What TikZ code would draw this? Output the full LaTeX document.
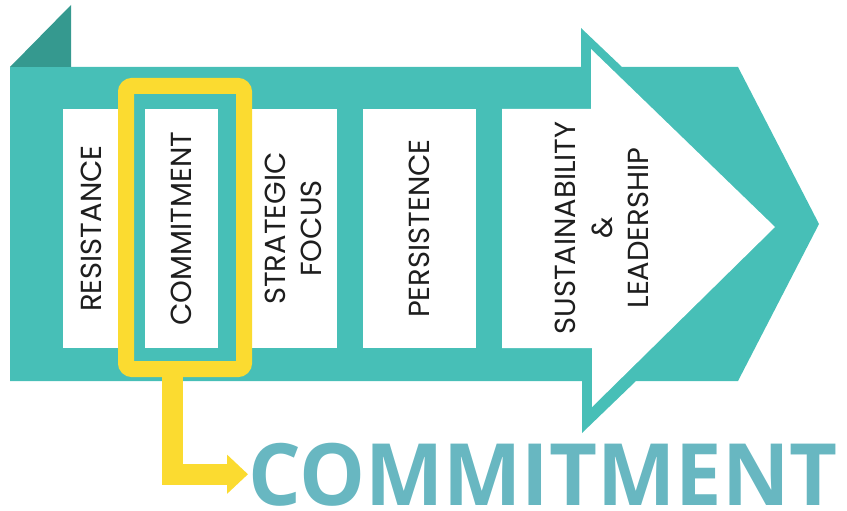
\documentclass[tikz,border=0pt]{standalone}
\usepackage{fontspec}
\setmainfont{Poppins}
\newfontfamily\titlefont{Open Sans}
\usetikzlibrary{arrows.meta}
\definecolor{band}{HTML}{47BFB7}
\definecolor{bandDark}{HTML}{35998F}
\definecolor{hl}{HTML}{FBDB30}
\definecolor{titleblue}{HTML}{68B7C1}
\definecolor{ink}{HTML}{1E1E1E}
\begin{document}
\begin{tikzpicture}[x=1pt,y=-1pt,
  stagebox/.style={fill=white, rotate=90, inner sep=0pt, align=center,
    font=\fontsize{29}{36}\selectfont, text=ink},
  stagetext/.style={rotate=90, inner sep=0pt, align=center,
    font=\fontsize{29}{36.5}\selectfont, text=ink},
  highlight/.style={draw=hl, line width=16pt, rounded corners=6pt, inner sep=0pt},
  connector/.style={hl, line width=21pt, -{Triangle[length=21pt,width=38pt]}},
  bigtitle/.style={anchor=base west, inner sep=0pt, text=titleblue,
    font=\titlefont\bfseries\fontsize{86}{86}\selectfont}]
\useasboundingbox (0,0) rectangle (847,511);
% band with arrow head
\fill[band] (10,67) -- (581,67) -- (581,28) -- (622,67) -- (738,67) -- (819,224)
  -- (738,381) -- (636,381) -- (582,433) -- (582,381) -- (10,381) -- cycle;
\fill[bandDark] (10,67) -- (71,5) -- (71,67) -- cycle;
% stage boxes
\node[stagebox, minimum width=239pt, minimum height=58pt] (s1) at (91.5,228.5) {RESISTANCE};
\node[stagebox, minimum width=239pt, minimum height=73pt] (s2) at (181.5,228.5) {COMMITMENT};
\node[stagebox, minimum width=239pt, minimum height=87pt] (s3) at (293.5,228.5) {STRATEGIC\\FOCUS};
\node[stagebox, minimum width=239pt, minimum height=113pt] (s4) at (419.5,228.5) {PERSISTENCE};
\fill[white] (502,109) -- (591,109) -- (591,49) -- (775,227) -- (592,407) -- (592,348)
  -- (502,348) -- cycle;
\node[stagetext] (s5) at (602,228) {SUSTAINABILITY\\\&\\LEADERSHIP};
% highlight and callout
\node[highlight, minimum width=118pt, minimum height=283pt] (ybox) at (185,227.5) {};
\node[bigtitle] (title) at (248,505) {\scalebox{0.965}[1]{COMMITMENT}};
\draw[connector] ([xshift=-12.5pt]ybox.south) |- (title.west);
\end{tikzpicture}
\end{document}
